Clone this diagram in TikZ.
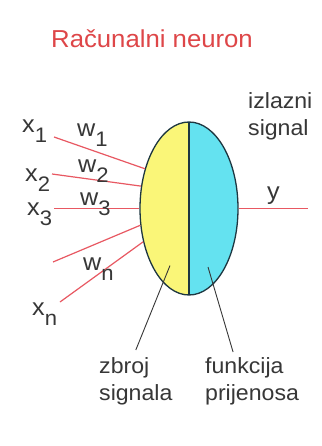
\documentclass[tikz,border=0pt]{standalone}
\usepackage{fontspec}
\setmainfont{Liberation Sans}[FakeStretch=1.05]
\usetikzlibrary{shapes.geometric,calc}
\definecolor{neuyel}{RGB}{250,246,120}
\definecolor{neucyan}{RGB}{100,226,240}
\definecolor{neuline}{RGB}{30,55,65}
\definecolor{wirered}{RGB}{232,88,98}
\definecolor{titlered}{RGB}{222,70,72}
\definecolor{txtgray}{RGB}{55,55,55}
\newcommand\lsub[1]{\raisebox{-10pt}{\fontsize{21}{21}\selectfont #1}}
\begin{document}
\begin{tikzpicture}[x=1pt,y=-1pt,
  lab/.style={inner sep=0pt,font=\fontsize{24}{27}\selectfont,text=txtgray,anchor=base west},
  blocklab/.style={inner sep=0pt,font=\fontsize{22}{27}\selectfont,text=txtgray,align=left,anchor=north west},
  wire/.style={wirered,line width=1.2pt},
  pointer/.style={txtgray,line width=0.9pt},
  neuronshape/.style={ellipse,draw=neuline,line width=1.3pt,minimum width=98pt,minimum height=173pt,inner sep=0pt,
    path picture={
      \fill[neuyel] (path picture bounding box.south west) rectangle (path picture bounding box.north);
      \fill[neucyan] (path picture bounding box.south) rectangle (path picture bounding box.north east);
      \draw[neuline,line width=1.3pt] (path picture bounding box.north) -- (path picture bounding box.south);
    }}]
\useasboundingbox (0,0) rectangle (321,446);
\fill[white] (0,0) rectangle (321,446);

\node[lab,text=titlered,font=\fontsize{24.5}{27}\selectfont] (title) at (51,48) {Računalni neuron};

\node[neuronshape] (neuron) at (189,208.5) {};

% inputs
\coordinate (in1) at (54,137);
\coordinate (in2) at (52,174);
\coordinate (in3) at (54,208.5);
\coordinate (in4) at (53,262);
\coordinate (in5) at (60,302);
\coordinate (out) at (308,208.5);

\draw[wire] (in1) -- (neuron.138);
\draw[wire] (in2) -- (neuron.155);
\draw[wire] (in3) -- (neuron.180);
\draw[wire] (in4) -- (neuron.199);
\draw[wire] (in5) -- (neuron.216);
\draw[wire] (neuron.east) -- (out);

% labels
\node[lab] (x1) at (22,133) {x\lsub{1}};
\node[lab] (w1) at (77,137) {w\lsub{1}};
\node[lab] (x2) at (25,182) {x\lsub{2}};
\node[lab] (w2) at (78,172) {w\lsub{2}};
\node[lab] (x3) at (27,215) {x\lsub{3}};
\node[lab] (w3) at (80,205) {w\lsub{3}};
\node[lab] (wn) at (83,270) {w\lsub{n}};
\node[lab] (xn) at (32,315) {x\lsub{n}};
\node[lab] (y) at (267,200) {y};

\node[blocklab] (izl) at (248,92) {izlazni\\signal};
\node[blocklab] (zb) at (99,357) {zbroj\\signala};
\node[blocklab] (fn) at (205,357) {funkcija\\prijenosa};

\draw[pointer] ([yshift=7pt]zb.north) -- ($(neuron.center)+(-19,57)$);
\draw[pointer] ([xshift=-19pt,yshift=5pt]fn.north) -- ($(neuron.center)+(19,58.5)$);
\end{tikzpicture}
\end{document}
